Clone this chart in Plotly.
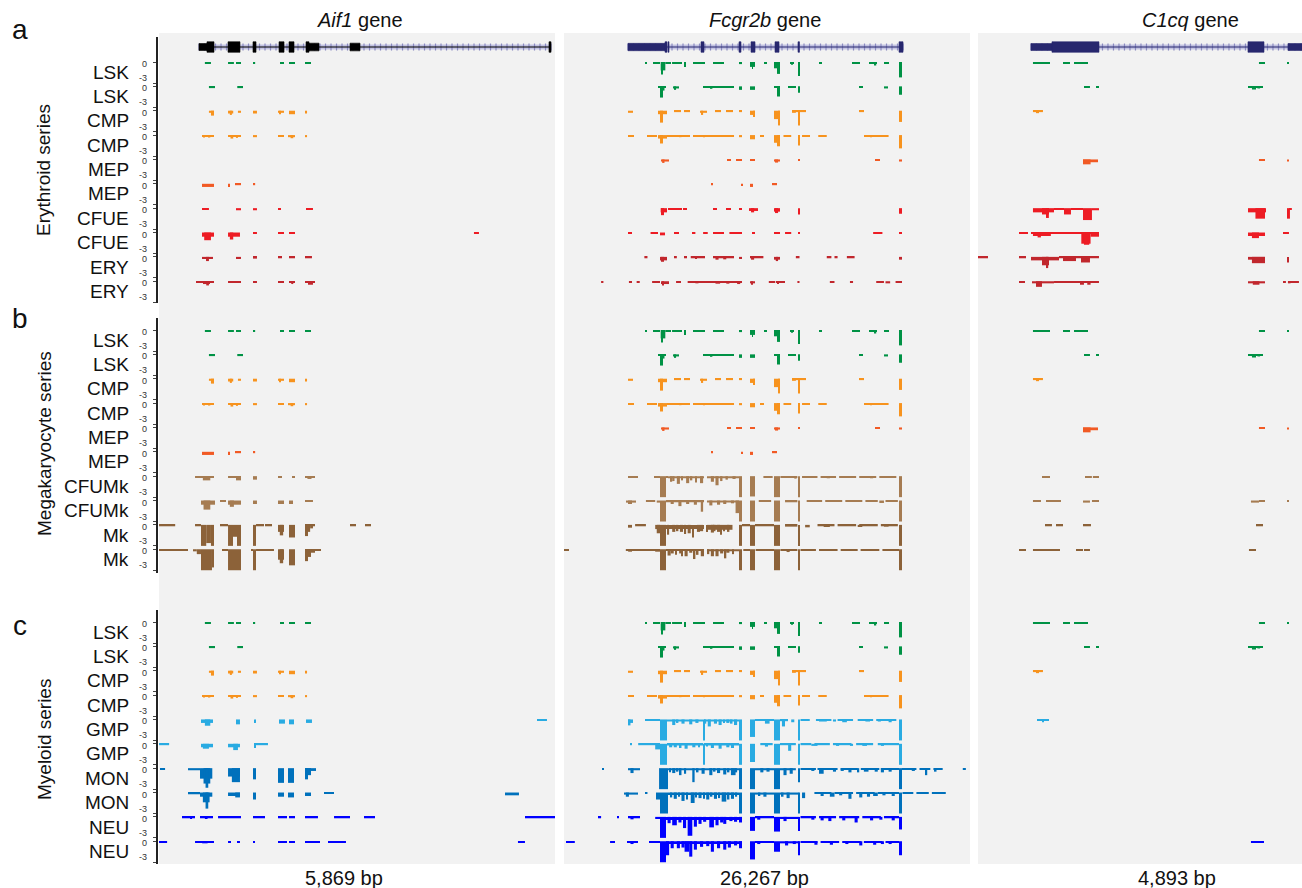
import numpy as np
import plotly.graph_objects as go

W, H = 1302, 888

# ---------------------------------------------------------------- loci
GENES = ["Aif1", "Fcgr2b", "C1cq"]
SPAN_BP = [5869, 26267, 4893]
SPAN_LABELS = ["5,869 bp", "26,267 bp", "4,893 bp"]
GENE_COLORS = ["#000000", "#27276e", "#27276e"]

# exon blocks: (start_bp, end_bp, block height in track units)
AIF1_EXONS = [(593, 711, 1.0), (711, 815, 1.5), (1023, 1200, 1.5), (1393, 1438, 1.5),
              (1779, 1853, 1.5), (1927, 2001, 1.5), (2179, 2223, 1.5), (2223, 2371, 1.1),
              (2831, 2979, 1.1), (5780, 5810, 1.5)]
FCGR2B_EXONS = [(4141, 6535, 1.05), (6535, 6664, 1.5), (6729, 6794, 1.5), (8864, 9058, 1.5),
                (11323, 11452, 1.5), (12099, 12358, 1.5), (13652, 13911, 1.5),
                (15140, 15237, 1.5), (21675, 21934, 1.5)]
C1CQ_EXONS = [(800, 1117, 1.0), (1117, 1827, 1.5), (4077, 4319, 1.5), (4681, 4893, 1.0)]
GENE_BODY = [(593, 5810), (4141, 21934), (800, 4893)]
EXONS = [AIF1_EXONS, FCGR2B_EXONS, C1CQ_EXONS]

# ---------------------------------------------------------------- coverage
# each entry: (start_bp, end_bp, depth); track axis runs 0 .. -3
LSK_1 = {
    "Aif1": [(680, 770, .2), (1023, 1110, .2), (1141, 1215, .2), (1393, 1425, .2),
             (1793, 1853, .2), (1927, 2016, .2), (2164, 2253, .2)],
    "Fcgr2b": [(5241, 5370, .2), (5758, 6211, .2), (6255, 6555, 1.2), (6276, 6405, 1.8),
               (6555, 6923, .2), (6990, 7635, .2), (7764, 7893, .7), (8346, 9123, .2),
               (9640, 10352, .2), (11323, 11517, .3), (12034, 12358, .7), (12163, 12228, 1.0),
               (12940, 13134, .2), (13587, 13975, .9), (13781, 13975, 1.7), (14622, 14881, .2),
               (14700, 14752, .4), (15170, 15237, 2.0), (16499, 16693, .2), (18634, 19151, .2),
               (19734, 20252, .2), (20100, 20200, .5), (20704, 21028, .2), (21675, 21869, 2.2)],
    "C1cq": [(830, 1087, .2), (1284, 1389, .2), (1450, 1661, .2), (4243, 4334, .2), (4681, 4696, .2)],
}
LSK_2 = {
    "Aif1": [(740, 830, .25), (1160, 1245, .25)],
    "Fcgr2b": [(6082, 6600, .2), (6211, 6405, 1.6), (6400, 6500, .6), (7052, 7441, .3),
               (7150, 7250, .5), (8993, 11000, .2), (9500, 9600, .35), (11323, 11517, .5),
               (12034, 12358, .5), (13587, 13975, .2), (13781, 13975, 1.45), (14493, 15010, .2),
               (15170, 15237, .9), (19087, 19345, .2), (20704, 20963, .3), (21675, 21869, 1.2)],
    "C1cq": [(1601, 1691, .2), (1797, 1827, .2), (4077, 4304, .2), (4137, 4198, .45), (4220, 4260, .3)],
}
CMP_1 = {
    "Aif1": [(740, 815, .3), (770, 815, .7), (1023, 1100, .4), (1050, 1080, .6), (1170, 1215, .3),
             (1393, 1452, .4), (1764, 1853, .3), (1780, 1800, .5), (1927, 2016, .5), (2164, 2194, .4)],
    "Fcgr2b": [(4141, 4464, .3), (6082, 6664, .5), (6211, 6405, 1.7), (7117, 7570, .2),
               (7764, 8152, .2), (8799, 9252, .3), (8900, 9000, .6), (9770, 10158, .2),
               (10481, 10934, .2), (11323, 11517, .2), (12034, 12358, .6), (12228, 12358, .9),
               (13587, 13975, 1.2), (13850, 13975, 2.1), (14752, 15657, .2), (14752, 15000, .3),
               (15170, 15237, 2.1), (19087, 19410, .2), (21675, 21869, 1.6)],
    "C1cq": [(830, 981, .2), (876, 921, .35)],
}
CMP_2 = {
    "Aif1": [(637, 815, .2), (660, 680, .35), (740, 760, .35), (1023, 1215, .2), (1060, 1100, .5),
             (1140, 1170, .4), (1393, 1452, .3), (1764, 1853, .2), (1912, 2016, .3), (1950, 1990, .45),
             (2164, 2194, .3)],
    "Fcgr2b": [(4141, 4529, .2), (5370, 6017, .2), (6082, 6664, .5), (6211, 6405, 1.2),
               (6664, 8152, .2), (7500, 7600, .3), (8346, 11000, .2), (9000, 9100, .3),
               (11323, 11517, .3), (12034, 12358, .6), (12681, 12940, .2), (13587, 13975, 1.1),
               (13781, 13975, 1.6), (14200, 14700, .2), (15170, 15237, 1.5), (15400, 15916, .2),
               (16450, 17000, .2), (19410, 21000, .2), (19800, 19900, .3), (21675, 21869, 1.9)],
    "C1cq": [],
}
MEP_1 = {
    "Aif1": [],
    "Fcgr2b": [(6276, 6794, .3), (6350, 6500, .5), (10546, 10805, .2), (11128, 11517, .2),
               (12034, 12358, .2), (13587, 13975, .3), (13650, 13850, .45), (15170, 15237, .2),
               (20122, 20445, .2), (21675, 21869, .3)],
    "C1cq": [(1586, 1812, .4), (1586, 1700, .7), (4243, 4334, .2), (4681, 4696, .3)],
}
MEP_2 = {
    "Aif1": [(637, 815, .45), (1023, 1052, .45), (1126, 1215, .2), (1393, 1425, .2)],
    "Fcgr2b": [(9511, 9640, .2), (11452, 11517, .3), (12034, 12228, .45), (13458, 13781, .2)],
    "C1cq": [],
}
CFUE_1 = {
    "Aif1": [(637, 740, .2), (1141, 1215, .3), (1393, 1452, .3), (1764, 1808, .2), (2179, 2282, .2)],
    "Fcgr2b": [(6255, 6664, .6), (6276, 6470, 1.0), (6729, 7635, .2), (7699, 7958, .25),
               (9640, 9899, .25), (10481, 10805, .25), (11323, 11517, .2), (11970, 12552, .4),
               (12100, 12300, .6), (13587, 13975, .5), (13650, 13850, .7), (15170, 15237, .9),
               (21675, 21869, .8)],
    "C1cq": [(830, 1148, .6), (966, 1072, .9), (1040, 1070, 1.4), (1148, 1299, .2), (1299, 1404, .9),
             (1404, 1586, .2), (1586, 1721, 1.7), (1721, 1827, .3), (4077, 4349, .6),
             (4190, 4334, 1.5), (4681, 4711, 1.5), (4711, 4740, .2)],
}
CFUE_2 = {
    "Aif1": [(637, 815, .6), (670, 770, 1.1), (1023, 1200, .6), (1050, 1100, 1.0), (1393, 1452, .2),
             (1764, 1853, .2), (1927, 2016, .2), (4668, 4742, .2)],
    "Fcgr2b": [(4141, 4400, .2), (5600, 6082, .2), (6211, 6535, .4), (7117, 7441, .2),
               (8280, 8500, .2), (9000, 9300, .2), (9640, 10352, .2), (10700, 11517, .2),
               (12163, 12358, .2), (13587, 13975, .2), (14300, 14700, .2), (15170, 15237, .2),
               (20000, 20600, .2), (21675, 21869, .2)],
    "C1cq": [(619, 755, .2), (800, 1827, .2), (830, 1100, .5), (900, 950, .7), (1560, 1700, 1.6),
             (1600, 1680, 1.75), (1700, 1827, .6), (4077, 4334, .5), (4137, 4243, .8), (4606, 4696, .2)],
}
ERY_1 = {
    "Aif1": [(637, 800, .3), (697, 740, .6), (1141, 1215, .3), (1393, 1452, .25), (1764, 1823, .2),
             (1927, 2016, .2), (2164, 2267, .2)],
    "Fcgr2b": [(5200, 5400, .2), (6211, 6664, .5), (6276, 6470, .7), (7117, 7300, .2),
               (7764, 7958, .2), (8200, 9123, .2), (8500, 8600, .3), (9640, 11000, .2),
               (9800, 10000, .4), (10300, 10500, .35), (11323, 11517, .3), (12034, 12900, .2),
               (12100, 12300, .4), (13587, 13975, .4), (13700, 13850, .6), (15000, 15237, .2),
               (17000, 17300, .2), (17500, 17700, .2), (18300, 18800, .2), (21675, 21869, .4)],
    "C1cq": [(0, 151, .2), (619, 725, .2), (800, 1223, .5), (966, 1072, 1.2), (1030, 1060, 1.6),
             (1223, 1827, .2), (1284, 1480, .6), (1555, 1691, .8), (4077, 4334, .4),
             (4137, 4334, .9), (4681, 4696, .8)],
}
ERY_2 = {
    "Aif1": [(548, 815, .2), (652, 756, .4), (700, 740, .6), (1023, 1215, .2), (1393, 1452, .2),
             (1764, 1853, .2), (1927, 2016, .2), (1960, 1990, .4), (2164, 2312, .2), (2208, 2282, .5)],
    "Fcgr2b": [(2400, 2550, .2), (4200, 4400, .2), (4700, 4900, .2), (5700, 6211, .2),
               (6276, 6794, .4), (6350, 6450, .6), (7250, 7570, .2), (8000, 9123, .2),
               (8500, 8700, .3), (9123, 11517, .2), (9800, 10100, .35), (10500, 10700, .35),
               (11200, 11400, .4), (12034, 12358, .3), (12100, 12200, .5), (13250, 13650, .2),
               (13700, 14300, .2), (13800, 13900, .4), (15100, 15237, .2), (17200, 17500, .2),
               (18500, 18700, .2), (20200, 20700, .2), (20800, 21100, .3), (21450, 21869, .2)],
    "C1cq": [(619, 710, .2), (815, 1148, .3), (876, 966, .8), (1148, 1827, .2), (1238, 1465, .25),
             (1540, 1600, .5), (1650, 1700, .5), (4077, 4334, .3), (4150, 4250, .5),
             (4606, 4650, .2), (4681, 4847, .2), (4681, 4720, .3)],
}
CFUMK_1 = {
    "Aif1": [(534, 815, .2), (650, 760, .6), (1023, 1215, .2), (1141, 1215, .6), (1393, 1452, .5),
             (1764, 1823, .2), (1971, 2016, .2), (2164, 2312, .2), (2200, 2260, .4)],
    "Fcgr2b": [(4141, 4788, .2), (5823, 6211, .2), (6211, 6600, 3.0), (6600, 6729, .2),
               (6729, 9058, .3), (6900, 7000, .8), (7000, 7150, .7), (7300, 7500, 1.1), (7600, 7700, .6),
               (7900, 8100, 1.0), (8200, 8300, .6), (8500, 8600, .9), (8800, 9000, 1.0),
               (9250, 11323, .3), (9500, 9700, .8), (9800, 10000, 1.3), (10100, 10250, .7),
               (10450, 10600, .5), (10900, 11100, .4), (11323, 11517, 3.0), (12034, 12358, 2.9),
               (12900, 13500, .2), (13587, 13975, 3.0), (14000, 15100, .2), (14900, 15050, .35),
               (15170, 15237, 3.0), (15400, 16400, .2), (16600, 17600, .2), (17000, 17200, .3),
               (17800, 18900, .2), (19100, 20200, .2), (19800, 20000, .3), (20400, 21500, .2),
               (21675, 21869, 3.0)],
    "C1cq": [(966, 1087, .2), (1616, 1720, .2), (1735, 1827, .2)],
}
CFUMK_2 = {
    "Aif1": [(622, 830, .6), (660, 760, 1.3), (904, 993, .2), (1023, 1215, .6), (1050, 1110, .9),
             (1393, 1452, .5), (1764, 1853, .5), (1927, 1986, .5), (2164, 2282, .2)],
    "Fcgr2b": [(4011, 4658, .3), (4140, 4400, .5), (5300, 5900, .2), (6000, 6211, .3),
               (6211, 6600, 3.0), (6600, 9058, .25), (6900, 7100, .5), (7400, 7600, .8),
               (7900, 8100, .5), (8400, 8600, .6), (8850, 9000, 1.6), (9250, 11323, .3),
               (9400, 9600, .7), (9900, 10100, .6), (10300, 10500, .5), (10800, 11000, .4),
               (11100, 11323, 1.8), (11323, 11517, 3.0), (12034, 12358, 3.0), (12600, 13400, .2),
               (13587, 13975, 3.0), (14300, 15100, .25), (15170, 15237, 3.0), (15700, 16700, .2),
               (16900, 18000, .2), (18200, 19300, .2), (19500, 20300, .2), (20400, 20700, .35),
               (20800, 21600, .2), (21675, 21869, 3.0)],
    "C1cq": [(830, 951, .2), (1027, 1253, .2), (1586, 1691, .3), (1721, 1827, .2), (4122, 4243, .3),
             (4243, 4334, .2), (4681, 4696, .2)],
}
MK_1 = {
    "Aif1": [(-60, 240, .2), (534, 622, .2), (622, 700, 3.0), (700, 770, 2.6), (770, 815, 3.0),
             (904, 1023, .2), (1023, 1097, 3.0), (1097, 1156, 1.7), (1156, 1215, 3.0),
             (1393, 1438, 3.0), (1438, 1556, .2), (1571, 1675, .2), (1764, 1853, 1.0),
             (1790, 1840, 1.5), (1927, 2016, 1.8), (2164, 2312, .2), (2164, 2208, 1.6),
             (2208, 2240, 1.0), (2240, 2282, .5), (2831, 2920, .2), (3053, 3142, .2)],
    "Fcgr2b": [(4141, 4400, .4), (4600, 5300, .2), (5900, 6211, .6), (6000, 6211, 1.2),
               (6211, 6600, 3.0), (6600, 9058, .6), (6700, 6800, 1.4), (7000, 7200, 1.0),
               (7300, 7400, .9), (7500, 7700, 1.0), (7800, 7900, 1.3), (8000, 8200, 1.2),
               (8300, 8400, 1.8), (8600, 8800, 1.0), (8800, 9000, .9), (9250, 10900, .7),
               (9200, 9300, 1.0), (9500, 9700, 1.1), (9700, 9800, .9), (9900, 10100, 1.0),
               (10100, 10200, 1.4), (10300, 10400, .9), (10600, 10700, 1.0),
               (11323, 11517, 3.0), (11517, 12034, .2), (12034, 12358, 3.0), (12358, 13587, .2),
               (13587, 13975, 3.0), (14300, 15100, .25), (15170, 15237, 3.0), (15600, 15900, .35),
               (16400, 17500, .2), (16800, 17200, .3), (17700, 18900, .2), (19000, 19300, .3),
               (19100, 20300, .2), (20500, 21600, .2), (20700, 21000, .25), (21675, 21869, 3.0)],
    "C1cq": [(1012, 1117, .2), (1178, 1284, .2), (1586, 1706, .2), (4198, 4304, .2)],
}
MK_2 = {
    "Aif1": [(-60, 430, .2), (504, 560, .3), (560, 622, .7), (622, 785, 3.0), (785, 815, 2.6),
             (934, 1023, .2), (1023, 1215, 3.0), (1363, 1393, .2), (1393, 1438, 3.0),
             (1438, 1704, .2), (1764, 1853, 1.5), (1790, 1840, 2.0), (1927, 2016, 2.3),
             (2164, 2401, .2), (2164, 2208, 1.7), (2208, 2253, 1.1), (2253, 2312, .5)],
    "Fcgr2b": [(0, 324, .2), (4000, 6211, .2), (4150, 4400, .35), (5900, 6211, .35),
               (6211, 6600, 3.0), (6600, 9058, .25), (6700, 6900, .9), (6900, 7100, .6),
               (7200, 7300, .8), (7450, 7650, .6), (7600, 7700, 1.0), (7800, 8000, 1.0),
               (8100, 8300, .5), (8400, 8500, 1.4), (8600, 8700, .8), (8850, 9058, 1.0),
               (9250, 11323, .3), (9300, 9400, .7), (9500, 9700, 1.0), (9800, 10000, 1.0),
               (10100, 10300, .6), (10400, 10500, 1.3), (10500, 10700, .5), (10900, 11000, .7),
               (11323, 11517, 3.0), (11600, 12034, .2), (12034, 12358, 3.0),
               (12400, 13587, .2), (13587, 13975, 3.0), (14000, 15100, .2), (14400, 14600, .4),
               (15170, 15237, 3.0), (15300, 16300, .2), (16500, 17700, .2), (17900, 19000, .2),
               (19200, 20400, .2), (19200, 19400, .25), (20600, 21675, .2), (21675, 21869, 3.0)],
    "C1cq": [(619, 725, .2), (830, 1238, .2), (1480, 1586, .2), (1601, 1691, .2), (4092, 4198, .2)],
}
GMP_1 = {
    "Aif1": [(622, 800, .5), (680, 760, .9), (1141, 1200, .7), (1408, 1438, .5), (1778, 1867, .6),
             (1927, 2001, .7), (2179, 2267, .5), (5602, 5750, .2)],
    "Fcgr2b": [(4141, 4464, .5), (4141, 4300, .85), (5241, 6211, .2), (6211, 6664, 3.0),
               (6664, 8993, .3), (7000, 7200, .8), (7300, 7400, .5), (7600, 7800, .6),
               (8100, 8300, .7), (8500, 8700, .5), (8993, 9058, 3.0), (9058, 11323, .3),
               (9100, 9200, .6), (9300, 9500, 1.0), (9700, 9900, .6), (10000, 10200, .8),
               (10300, 10400, .5), (10500, 10700, .5), (10800, 10900, .6), (11000, 11200, .8),
               (11323, 11517, 3.0), (12034, 12358, 2.5), (12358, 13587, .2), (13000, 13300, .6),
               (13587, 13975, 3.0), (13975, 14493, .25), (14100, 14300, 1.0), (14700, 14900, .4),
               (15170, 15237, 3.0), (15300, 15900, .2), (16300, 17300, .2), (16500, 17000, .3),
               (17400, 17600, .3), (17700, 18700, .2), (18000, 18300, .4), (19000, 20000, .2),
               (19500, 19800, .3), (20200, 21500, .2), (20300, 20500, .3), (21000, 21200, .4),
               (21675, 21869, 3.0)],
    "C1cq": [(891, 1072, .2), (966, 997, .4)],
}
GMP_2 = {
    "Aif1": [(-60, 150, .2), (622, 800, .5), (650, 740, .7), (1023, 1200, .5), (1100, 1170, .9),
             (1408, 1615, .2), (1408, 1438, .6)],
    "Fcgr2b": [(4270, 4400, .2), (4800, 6211, .2), (5900, 6211, .8), (6211, 6664, 3.0),
               (6664, 8993, .25), (6800, 7000, .5), (7100, 7300, .5), (7500, 7600, .6),
               (7800, 8000, .7), (8300, 8500, .5), (8700, 8800, .5), (8993, 9058, 3.0),
               (9058, 11323, .25), (9200, 9300, .4), (9500, 9700, .6), (10000, 10200, .7),
               (10500, 10700, .5), (10800, 11000, .6), (11323, 11517, 3.0), (12034, 12358, 2.6),
               (12700, 13500, .2), (13000, 13200, .4), (13587, 13975, 3.0), (13975, 15000, .2),
               (14500, 14700, 1.0), (15170, 15237, 3.0), (15300, 16000, .2), (16000, 16400, .3),
               (16200, 17200, .2), (17400, 18600, .2), (17600, 17800, .3), (18500, 18700, .3),
               (18900, 20000, .2), (19300, 19600, .3), (20300, 21675, .2), (20500, 20700, .3),
               (21675, 21869, 3.0)],
    "C1cq": [],
}
MON_1 = {
    "Aif1": [(15, 90, .2), (430, 608, .3), (608, 790, 1.5), (660, 760, 2.2), (690, 730, 2.8),
             (1023, 1200, 1.2), (1080, 1200, 2.0), (1393, 1438, 1.6), (1764, 1853, 2.1),
             (1912, 2001, 2.1), (2164, 2327, .4), (2164, 2253, 1.0), (2164, 2208, 1.6)],
    "Fcgr2b": [(2459, 2588, .2), (4141, 4917, .3), (4300, 4500, .7), (6150, 6729, 3.0),
               (6729, 11323, .3), (6800, 6900, .6), (7000, 7200, .7), (7300, 7400, .5),
               (7500, 7600, 1.0), (7800, 7900, .8), (8300, 8450, 2.0), (8600, 8700, .6),
               (8900, 9100, .8), (9400, 9600, 1.0), (9700, 9800, .5), (9900, 10100, .7),
               (10300, 10500, .9), (10600, 10700, .6), (10800, 11100, 1.0), (11100, 11200, .6),
               (11323, 11517, 3.0), (12034, 12358, 3.0), (12358, 13587, .3), (12700, 12900, .6),
               (13100, 13300, .5), (13587, 13975, 3.0), (13975, 15000, .3), (14200, 14400, 1.0),
               (14600, 14800, .8), (15170, 15237, 2.0), (15300, 16300, .2), (16000, 16200, .4),
               (16400, 17700, .2), (16500, 16800, .8), (17400, 17600, .5), (17900, 19000, .2),
               (17900, 18100, .4), (18400, 18600, .6), (19000, 19100, .6), (19200, 20400, .2),
               (19400, 19700, .5), (20100, 20300, .5), (20500, 21675, .2), (20500, 20700, .6),
               (21000, 21200, .5), (21675, 21869, 3.0), (21869, 22800, .2), (22500, 22700, .4),
               (23000, 23700, .2), (23400, 23500, 1.0), (23900, 24500, .2), (24000, 24100, .5),
               (25800, 26000, .2)],
    "C1cq": [],
}
MON_2 = {
    "Aif1": [(430, 608, .25), (608, 790, .6), (650, 750, 1.4), (690, 730, 2.3), (1023, 1200, .5),
             (1130, 1200, .7), (1393, 1438, 1.0), (1764, 1853, .6), (1912, 2001, .7),
             (2164, 2253, .5), (2445, 2594, .2), (5128, 5335, .4)],
    "Fcgr2b": [(3880, 4788, .3), (4000, 4200, .6), (5241, 5400, .2), (5950, 6211, 1.0),
               (6211, 6729, 3.0), (6729, 11323, .35), (6900, 7000, .7), (7100, 7300, .9),
               (7400, 7500, .6), (7600, 7800, 1.2), (7900, 8000, 1.0), (8200, 8450, 1.5),
               (8500, 8600, .7), (8700, 8900, .8), (9000, 9100, .9), (9200, 9400, 1.0),
               (9500, 9600, .6), (9700, 9900, .9), (10000, 10100, .8), (10200, 10500, 1.3),
               (10600, 10700, 1.0), (10800, 11000, .9), (11100, 11200, .6), (11323, 11517, 3.0),
               (12034, 12358, 3.0), (12358, 13587, .3), (12600, 12700, .5), (12900, 13100, .6),
               (13587, 13975, 3.0), (13975, 15170, .3), (14100, 14200, .6), (14400, 14600, .8),
               (15170, 15237, 3.0), (15400, 15600, .8), (16200, 17300, .2), (16600, 16800, .5),
               (17200, 17500, .6), (17500, 18700, .2), (17800, 18000, .4), (18400, 18600, .9),
               (18900, 20100, .2), (19100, 19300, .7), (19600, 19800, .6), (20000, 20300, .5),
               (20300, 21675, .2), (20600, 20800, .4), (21200, 21400, .5), (21675, 21869, 3.0),
               (21900, 22600, .2), (22800, 23600, .2), (23800, 24700, .2)],
    "C1cq": [],
}
NEU_1 = {
    "Aif1": [(341, 534, .2), (460, 490, .3), (608, 800, .2), (680, 720, .3), (875, 1215, .2),
             (1393, 1571, .2), (1764, 1897, .2), (1927, 2016, .2), (2164, 2356, .2),
             (2594, 2831, .2), (3038, 3201, .2), (5424, 5869, .2)],
    "Fcgr2b": [(2200, 2400, .2), (3450, 3550, .2), (4141, 4917, .2), (4300, 4500, .35),
               (5900, 6211, .3), (6211, 6600, 3.0), (6600, 11517, .45), (6700, 6900, .9),
               (7000, 7300, 1.2), (7400, 7600, .8), (7700, 7900, 1.6), (8000, 8300, 2.7),
               (8400, 8600, 1.4), (8700, 8900, 1.0), (9000, 9200, .7), (9400, 9700, 1.5),
               (9800, 10000, 1.2), (10100, 10300, .8), (10300, 10500, 1.0), (10700, 10900, .6),
               (11000, 11200, .7), (11323, 11517, .8), (12034, 12358, 2.0), (12358, 13587, .2),
               (12500, 12700, .4), (13587, 13975, 2.1), (13975, 15237, .3), (14200, 14400, .6),
               (15170, 15237, 2.0), (15300, 16300, .2), (16000, 16200, .4), (16500, 17600, .2),
               (16600, 16800, .5), (17100, 17300, .6), (17800, 19100, .2), (18000, 18200, .5),
               (18800, 19000, .8), (19300, 20500, .2), (19800, 20000, .5), (20400, 20600, .4),
               (20700, 21675, .2), (21200, 21400, .5), (21675, 21869, 1.8)],
    "C1cq": [],
}
NEU_2 = {
    "Aif1": [(-30, 120, .2), (534, 815, .2), (640, 720, .3), (1023, 1067, .2), (1156, 1200, .2),
             (1393, 1423, .2), (1764, 1897, .2), (1927, 2016, .2), (2164, 2386, .2),
             (2505, 2771, .2), (5320, 5424, .2)],
    "Fcgr2b": [(130, 700, .2), (2980, 3300, .2), (4076, 4788, .2), (4300, 4500, .4),
               (5500, 6211, .2), (6211, 6600, 3.0), (6600, 11517, .4), (6600, 6800, 2.0),
               (6900, 7100, 1.0), (7300, 7500, 1.0), (7600, 7800, .9), (7800, 8100, 1.5),
               (8100, 8300, 2.2), (8400, 8600, 1.2), (8800, 9000, .8), (9200, 9400, .7),
               (9500, 9700, 1.5), (9900, 10100, 1.0), (10300, 10500, 1.2), (10600, 10800, .9),
               (11000, 11200, .6), (11323, 11517, 1.0), (12034, 12358, 2.6), (12358, 13587, .2),
               (12500, 12700, .4), (13587, 13975, 1.5), (13975, 15237, .3), (14300, 14500, .6),
               (14800, 15000, .4), (15170, 15237, 2.0), (15300, 16400, .2), (16200, 16400, .5),
               (16600, 17800, .2), (17200, 17400, .5), (18000, 19200, .2), (18200, 18400, .4),
               (19100, 19300, .6), (19400, 20600, .2), (20000, 20200, .5), (20500, 20700, .4),
               (20800, 21675, .2), (21000, 21200, .4), (21675, 21869, 2.0)],
    "C1cq": [(4122, 4319, .2)],
}

# ---------------------------------------------------------------- panels
CELL_COLORS = {
    "LSK": "#009245", "CMP": "#f7931e", "MEP": "#f15a24", "CFUE": "#ed1c24",
    "ERY": "#c1272d", "CFUMk": "#a67c52", "Mk": "#8c6239", "GMP": "#29abe2",
    "MON": "#0071bc", "NEU": "#0000ff",
}
PANEL_A = [("LSK", LSK_1), ("LSK", LSK_2), ("CMP", CMP_1), ("CMP", CMP_2), ("MEP", MEP_1),
           ("MEP", MEP_2), ("CFUE", CFUE_1), ("CFUE", CFUE_2), ("ERY", ERY_1), ("ERY", ERY_2)]
PANEL_B = [("LSK", LSK_1), ("LSK", LSK_2), ("CMP", CMP_1), ("CMP", CMP_2), ("MEP", MEP_1),
           ("MEP", MEP_2), ("CFUMk", CFUMK_1), ("CFUMk", CFUMK_2), ("Mk", MK_1), ("Mk", MK_2)]
PANEL_C = [("LSK", LSK_1), ("LSK", LSK_2), ("CMP", CMP_1), ("CMP", CMP_2), ("GMP", GMP_1),
           ("GMP", GMP_2), ("MON", MON_1), ("MON", MON_2), ("NEU", NEU_1), ("NEU", NEU_2)]
PANELS = [PANEL_A, PANEL_B, PANEL_C]
PANEL_LETTERS = ["a", "b", "c"]
SERIES_NAMES = ["Erythroid series", "Megakaryocyte series", "Myeloid series"]

# ---------------------------------------------------------------- geometry (pixels)
FONT = "Liberation Sans, Arial, Helvetica, sans-serif"
PX_PER_UNIT = 7.0
TRACK_STEP = 3.48                      # track spacing in signal units
COL_PX = [(159, 555), (564, 970), (978, 1302)]
PANEL_PX = [(37, 62, 303), (318, 330, 573), (610, 622, 864)]   # top, first baseline, bottom
TITLE_X = [360, 765, 1190]
SPAN_X = [344, 765, 1177]
SERIES_Y = [170, 444, 740]
LETTER_Y = [30, 318, 625]
GRAY_TOP, GRAY_BOTTOM = 33, 864
AXIS_X = 157
GENE_Y = 2.14


def fx(px):
    return px / W


def fy(py):
    return 1 - py / H


def xa(c):
    return "x" if c == 0 else f"x{c + 1}"


def ya(p):
    return "y" if p == 0 else f"y{p + 1}"


fig = go.Figure()

# gray track backgrounds
for x0, x1 in COL_PX:
    fig.add_shape(type="rect", xref="paper", yref="paper", x0=fx(x0), x1=fx(x1),
                  y0=fy(GRAY_BOTTOM), y1=fy(GRAY_TOP), fillcolor="#f2f2f2",
                  line=dict(width=0), layer="below")

layout_axes = {}
for c, (x0, x1) in enumerate(COL_PX):
    name = "xaxis" if c == 0 else f"xaxis{c + 1}"
    layout_axes[name] = dict(domain=[fx(x0), fx(x1)], range=[0, SPAN_BP[c]], visible=False,
                             anchor="free", position=0, fixedrange=True)

annotations = []
for p, (top, base0, bottom) in enumerate(PANEL_PX):
    name = "yaxis" if p == 0 else f"yaxis{p + 1}"
    tickvals = []
    for i in range(len(PANELS[p])):
        b = -i * TRACK_STEP
        tickvals += [b, b - 3]
        # scale labels: "0" at the baseline, "-3" lifted clear of the next track's "0"
        annotations.append(dict(x=fx(149), y=b, xref="paper", yref=ya(p), text="0",
                                showarrow=False, xanchor="right", yanchor="middle", yshift=-2,
                                font=dict(size=9, color="#333333", family=FONT)))
        annotations.append(dict(x=fx(149), y=b - 3, xref="paper", yref=ya(p), text="-3",
                                showarrow=False, xanchor="right", yanchor="middle", yshift=5,
                                font=dict(size=9, color="#333333", family=FONT)))
    layout_axes[name] = dict(
        domain=[fy(bottom), fy(top)],
        range=[-(bottom - base0) / PX_PER_UNIT, (base0 - top) / PX_PER_UNIT],
        anchor="free", position=fx(AXIS_X), side="left",
        showline=True, linecolor="#222222", linewidth=1.6,
        ticks="outside", ticklen=3, tickwidth=1, tickcolor="#444444",
        tickvals=tickvals, showticklabels=False,
        showgrid=False, zeroline=False, fixedrange=True,
    )

# coverage tracks
for p, panel in enumerate(PANELS):
    for i, (cell, sample) in enumerate(panel):
        base = -i * TRACK_STEP
        for c, gene in enumerate(GENES):
            segs = sample[gene]
            if not segs:
                continue
            s = np.array(segs, dtype=float)
            fig.add_trace(go.Bar(
                x=(s[:, 0] + s[:, 1]) / 2, width=s[:, 1] - s[:, 0], y=-s[:, 2], base=base,
                xaxis=xa(c), yaxis=ya(p), marker=dict(color=CELL_COLORS[cell], line=dict(width=0)),
                hoverinfo="skip", showlegend=False,
            ))

# gene models above panel a: hatched intron line, then solid exon blocks
for c, gene in enumerate(GENES):
    g0, g1 = GENE_BODY[c]
    bp_per_px = SPAN_BP[c] / (COL_PX[c][1] - COL_PX[c][0])
    fig.add_trace(go.Scatter(x=[g0, g1], y=[GENE_Y, GENE_Y], mode="lines", xaxis=xa(c), yaxis="y",
                             line=dict(color="#c3c3e2", width=5), hoverinfo="skip", showlegend=False))
    ticks = np.arange(g0, g1, 5.5 * bp_per_px)
    fig.add_trace(go.Scatter(x=ticks, y=np.full(len(ticks), GENE_Y), mode="markers",
                             xaxis=xa(c), yaxis="y",
                             marker=dict(symbol="line-ns", size=5, line=dict(color="#8a8ac0", width=1.2)),
                             hoverinfo="skip", showlegend=False))
    fig.add_trace(go.Scatter(x=[g0, g1], y=[GENE_Y, GENE_Y], mode="lines", xaxis=xa(c), yaxis="y",
                             line=dict(color=GENE_COLORS[c], width=1.1), hoverinfo="skip",
                             showlegend=False))
    ex, ey = [], []
    for e0, e1, h in EXONS[c]:
        ex += [e0, e1, e1, e0, e0, None]
        ey += [GENE_Y - h / 2, GENE_Y - h / 2, GENE_Y + h / 2, GENE_Y + h / 2, GENE_Y - h / 2, None]
    fig.add_trace(go.Scatter(x=ex, y=ey, mode="lines", fill="toself", fillcolor=GENE_COLORS[c],
                             line=dict(color=GENE_COLORS[c], width=0.6), xaxis=xa(c), yaxis="y",
                             hoverinfo="skip", showlegend=False))

# gene titles and span labels
for c, gene in enumerate(GENES):
    annotations.append(dict(x=fx(TITLE_X[c]), y=fy(20), xref="paper", yref="paper",
                            text=f"<i>{gene}</i> gene", showarrow=False,
                            font=dict(size=20, family=FONT, color="#111111"),
                            xanchor="center", yanchor="middle"))
    annotations.append(dict(x=fx(SPAN_X[c]), y=fy(878), xref="paper", yref="paper",
                            text=SPAN_LABELS[c], showarrow=False,
                            font=dict(size=20, family=FONT, color="#111111"),
                            xanchor="center", yanchor="middle"))

for p, panel in enumerate(PANELS):
    for i, (cell, _) in enumerate(panel):
        annotations.append(dict(x=fx(131), y=-i * TRACK_STEP - 1.45, xref="paper", yref=ya(p),
                                text=cell, showarrow=False, xanchor="right", yanchor="middle",
                                font=dict(size=19, family=FONT, color="#111111")))
    annotations.append(dict(x=fx(44), y=fy(SERIES_Y[p]), xref="paper", yref="paper",
                            text=SERIES_NAMES[p], textangle=-90, showarrow=False,
                            xanchor="center", yanchor="middle",
                            font=dict(size=19, family=FONT, color="#111111")))
    annotations.append(dict(x=fx(20), y=fy(LETTER_Y[p]), xref="paper", yref="paper",
                            text=PANEL_LETTERS[p], showarrow=False,
                            xanchor="center", yanchor="middle",
                            font=dict(size=28, family=FONT, color="#111111")))

fig.update_layout(
    width=W, height=H, margin=dict(l=0, r=0, t=0, b=0),
    paper_bgcolor="white", plot_bgcolor="rgba(0,0,0,0)",
    barmode="overlay", showlegend=False, template="none",
    annotations=annotations, **layout_axes,
)

fig.write_html("out.html")
